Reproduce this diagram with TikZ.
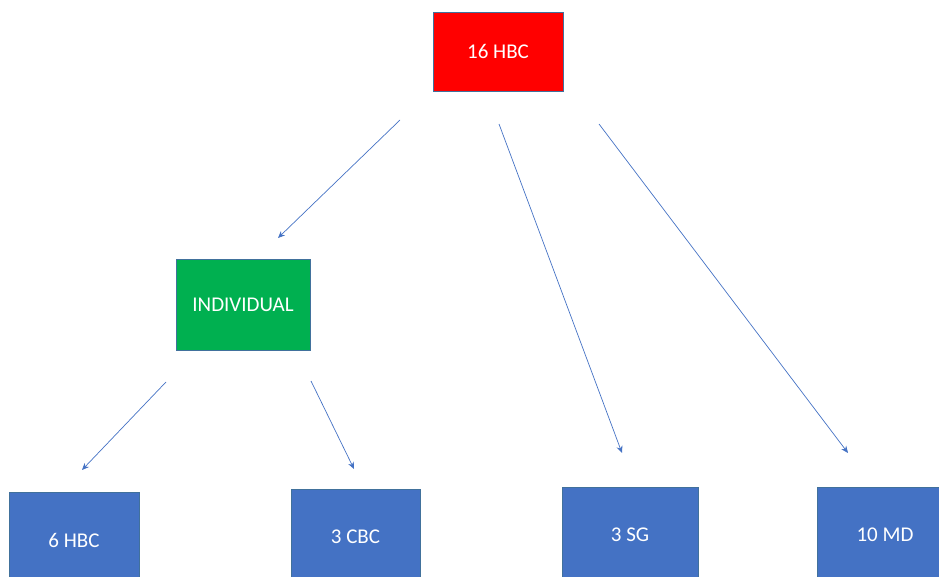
\documentclass[tikz,border=0pt]{standalone}
\usepackage{fontspec}
\setmainfont{Carlito}
\usetikzlibrary{arrows.meta}
\definecolor{offred}{HTML}{FF0000}
\definecolor{offgreen}{HTML}{00B050}
\definecolor{offblue}{HTML}{4472C4}
\definecolor{offline}{HTML}{41719C}
\definecolor{arrowblue}{HTML}{4472C4}
\begin{document}
\begin{tikzpicture}[x=1pt,y=-1pt,
  box/.style={draw=offline,line width=0.8pt,text=white,font=\fontsize{21}{24}\selectfont,inner sep=0pt},
  conn/.style={draw=arrowblue,line width=0.7pt,-{Stealth[length=7pt,width=6pt]}}]
\useasboundingbox (0,0) rectangle (939,577);
\begin{scope}
\clip (0,0) rectangle (939,577);
\node[box,fill=offred,minimum width=130pt,minimum height=79pt] (top) at (498,51.5) {16 HBC};
\node[box,fill=offgreen,minimum width=134pt,minimum height=91pt] (ind) at (243,304.5) {INDIVIDUAL};
\node[box,fill=offblue,minimum width=130pt,minimum height=95pt] (hbc) at (74,540) {6 HBC};
\node[box,fill=offblue,minimum width=129pt,minimum height=95pt] (cbc) at (355.5,537) {3 CBC};
\node[box,fill=offblue,minimum width=136pt,minimum height=95pt] (sg) at (630,535) {3 SG};
\node[box,fill=offblue,minimum width=136pt,minimum height=95pt] (md) at (885,535) {10 MD};
\end{scope}
\coordinate (a1s) at (400,120); \coordinate (a1e) at (278,238);
\coordinate (a2s) at (499,124); \coordinate (a2e) at (622,453);
\coordinate (a3s) at (599,124); \coordinate (a3e) at (848,453);
\coordinate (a4s) at (166,382); \coordinate (a4e) at (82,470);
\coordinate (a5s) at (311,381); \coordinate (a5e) at (354,469);
\draw[conn] (a1s) -- (a1e);
\draw[conn] (a2s) -- (a2e);
\draw[conn] (a3s) -- (a3e);
\draw[conn] (a4s) -- (a4e);
\draw[conn] (a5s) -- (a5e);
\end{tikzpicture}
\end{document}
